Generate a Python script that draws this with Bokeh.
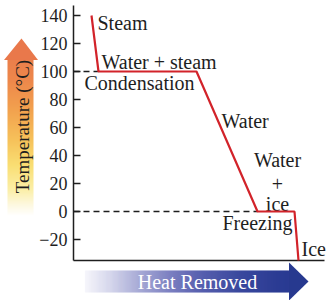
import math
from bokeh.plotting import figure
from bokeh.models import Range1d, LinearAxis, FixedTicker
from bokeh.core.properties import value
from bokeh.embed import file_html
from bokeh.resources import INLINE

# ---- data ----
heat = [18, 25, 123, 184, 221, 225]
temp = [140, 100, 100, 0, 0, -35]
y_ticks = [-20, 0, 20, 40, 60, 80, 100, 120, 140]

left_labels = ["Steam", "Water + steam", "Condensation", "Water", "Freezing", "Ice"]
left_x = [24, 28, 11, 148, 149, 228]
left_y = [134.3, 106.8, 91.5, 64.3, -8.5, -27.1]

mid_labels = ["Water", "+", "ice"]
mid_x = [204, 204, 204]
mid_y = [36.5, 20.0, 5.7]

# ---- screen helpers (decorations only) ----
def dx(sx):
    return sx - 73.0

def dy(sy):
    return (211.0 - sy) / 1.4

def hex2rgb(h):
    h = h.lstrip("#")
    return tuple(int(h[i:i + 2], 16) for i in (0, 2, 4))

def grad(stops, t):
    for (a, ca), (b, cb) in zip(stops[:-1], stops[1:]):
        if a <= t <= b:
            f = 0 if b == a else (t - a) / (b - a)
            c1, c2 = hex2rgb(ca), hex2rgb(cb)
            return "#%02x%02x%02x" % tuple(int(round(c1[i] + (c2[i] - c1[i]) * f)) for i in range(3))
    return stops[-1][1] if t > stops[-1][0] else stops[0][1]

p = figure(width=328, height=300, output_backend="svg", toolbar_location=None,
           x_range=Range1d(dx(0), dx(328)), y_range=Range1d(dy(300), dy(0)),
           x_axis_type=None, y_axis_type=None, min_border=0)
p.outline_line_color = None
p.background_fill_color = "white"
p.border_fill_color = "white"

FONT = value("Liberation Serif")

# ---- vertical gradient arrow (Temperature) ----
v_stops = [(38, "#e8764a"), (80, "#ed874b"), (110, "#f2a14e"), (140, "#f6c15a"),
           (165, "#f9de72"), (190, "#fbefa8"), (205, "#fdf8e0"), (216, "#ffffff")]
vl, vr, vt, vb, vc = [], [], [], [], []
for sy in range(59, 216):
    vl.append(dx(7)); vr.append(dx(33))
    vt.append(dy(sy - 0.6)); vb.append(dy(sy + 0.6))
    vc.append(grad(v_stops, sy + 0.5))
p.quad(left=vl, right=vr, top=vt, bottom=vb, fill_color=vc, line_color=None)
p.patch([dx(21), dx(37.5), dx(3.5)], [dy(38), dy(59.5), dy(59.5)],
        fill_color="#e9784b", line_color=None)

# ---- horizontal gradient arrow (Heat Removed) ----
h_stops = [(85, "#f6f6fb"), (110, "#d6d7ec"), (140, "#a6a9d5"), (170, "#7c80c1"),
           (200, "#5860af"), (240, "#3a499e"), (280, "#2b3b93"), (310, "#26388f")]
hl, hr, ht, hb, hc = [], [], [], [], []
for sx in range(85, 289):
    hl.append(dx(sx - 0.6)); hr.append(dx(sx + 0.6))
    ht.append(dy(270)); hb.append(dy(292))
    hc.append(grad(h_stops, sx + 0.5))
p.quad(left=hl, right=hr, top=ht, bottom=hb, fill_color=hc, line_color=None)
p.patch([dx(288.5), dx(308), dx(288.5)], [dy(262), dy(281), dy(300)],
        fill_color="#27398f", line_color=None)

p.text(x=[dx(197)], y=[dy(281)], text=["Heat Removed"], text_font=FONT,
       text_font_size=value("20px"), text_color="white", text_align="center",
       text_baseline="alphabetic")
p.text(x=[dx(22)], y=[dy(126)], text=["Temperature (°C)"], text_font=FONT,
       text_font_size=value("19px"), text_color="#1e1e1e", text_align="center",
       text_baseline="alphabetic", angle=math.pi / 2)

# ---- labels ----
p.text(x=left_x, y=left_y, text=left_labels, text_font=FONT, text_font_size=value("20px"),
       text_color="#1e1e1e", text_align="left", text_baseline="alphabetic")
p.text(x=mid_x, y=mid_y, text=mid_labels, text_font=FONT, text_font_size=value("20px"),
       text_color="#1e1e1e", text_align="center", text_baseline="alphabetic")

# ---- axes ----
yaxis = LinearAxis(fixed_location=0, bounds=(temp[-1], dy(5)),
                   ticker=FixedTicker(ticks=y_ticks),
                   major_tick_in=7, major_tick_out=0, minor_tick_in=0, minor_tick_out=0,
                   major_label_standoff=6,
                   major_label_text_font="Liberation Serif",
                   major_label_text_font_size="18px",
                   major_label_text_color="#1e1e1e",
                   axis_line_width=1.5, axis_line_color="#1e1e1e",
                   major_tick_line_width=1.5, major_tick_line_color="#1e1e1e",
                   major_label_overrides={-20: "\u221220"})
p.add_layout(yaxis, "left")

xaxis = LinearAxis(fixed_location=temp[-1], bounds=(0, 251),
                   ticker=FixedTicker(ticks=[]),
                   major_tick_in=0, major_tick_out=0, minor_tick_in=0, minor_tick_out=0,
                   axis_line_width=1.5, axis_line_color="#1e1e1e")
p.add_layout(xaxis, "below")

# ---- dashed reference lines and cooling curve (drawn last) ----
p.line([0, heat[1]], [temp[1], temp[1]], line_color="#1e1e1e", line_width=1.3,
       line_dash="6 4", level="overlay")
p.line([0, heat[3]], [temp[3], temp[3]], line_color="#1e1e1e", line_width=1.3,
       line_dash="6 4", level="overlay")
p.line(heat, temp, line_color="#d2232a", line_width=2.2, level="overlay")

open("out.html", "w").write(file_html(p, INLINE))
